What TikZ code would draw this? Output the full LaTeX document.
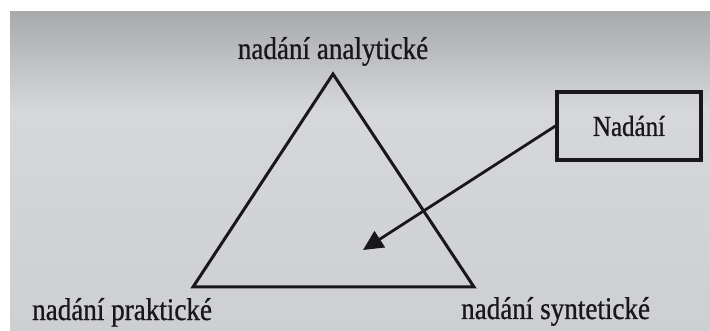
\documentclass[tikz,border=0pt]{standalone}
\usepackage{fontspec}
\setmainfont{Liberation Serif}
\newfontfamily\condserif[FakeStretch=0.86,FakeBold=0.8]{Liberation Serif}
\usetikzlibrary{arrows.meta}
\definecolor{pagetop}{RGB}{168,170,172}
\definecolor{pagemid}{RGB}{214,215,216}
\definecolor{pagebot}{RGB}{206,207,208}
\definecolor{ink}{RGB}{24,24,26}
\tikzset{
  lbl/.style={inner sep=0pt, text=ink, font=\condserif\fontsize{31.5}{34}\selectfont},
  boxnode/.style={draw=ink, line width=3.2pt, minimum width=144pt, minimum height=68pt, inner sep=0pt, text=ink, font=\condserif\fontsize{29}{31}\selectfont},
  edge/.style={draw=ink, line width=3pt, line join=miter},
  pointer/.style={draw=ink, line width=2.8pt, -{Triangle[length=20pt,width=19pt]}}
}
\begin{document}
\begin{tikzpicture}[x=1pt,y=-1pt]
\useasboundingbox (0,0) rectangle (710,331);
\fill[white] (0,0) rectangle (710,331);
\shade[top color=pagetop, bottom color=pagemid] (10,12) rectangle (710,110);
\shade[top color=pagemid, bottom color=pagebot] (10,110) rectangle (710,331);
% triangle corners
\coordinate (A) at (333,74);
\coordinate (L) at (193,287);
\coordinate (R) at (474,287);
\coordinate (T) at (363,250);
\draw[edge] (A) -- (L) -- (R) -- cycle;
% labels
\node[lbl, anchor=base] (ta) at (333,59) {nadání analytické};
\node[lbl, anchor=base west] (tp) at (32,320) {nadání praktické};
\node[lbl, anchor=base west] (ts) at (461,319) {nadání syntetické};
% box
\node[boxnode] (box) at (629,126) {Nadání};
\draw[pointer] (box.west) -- (T);
\end{tikzpicture}
\end{document}
